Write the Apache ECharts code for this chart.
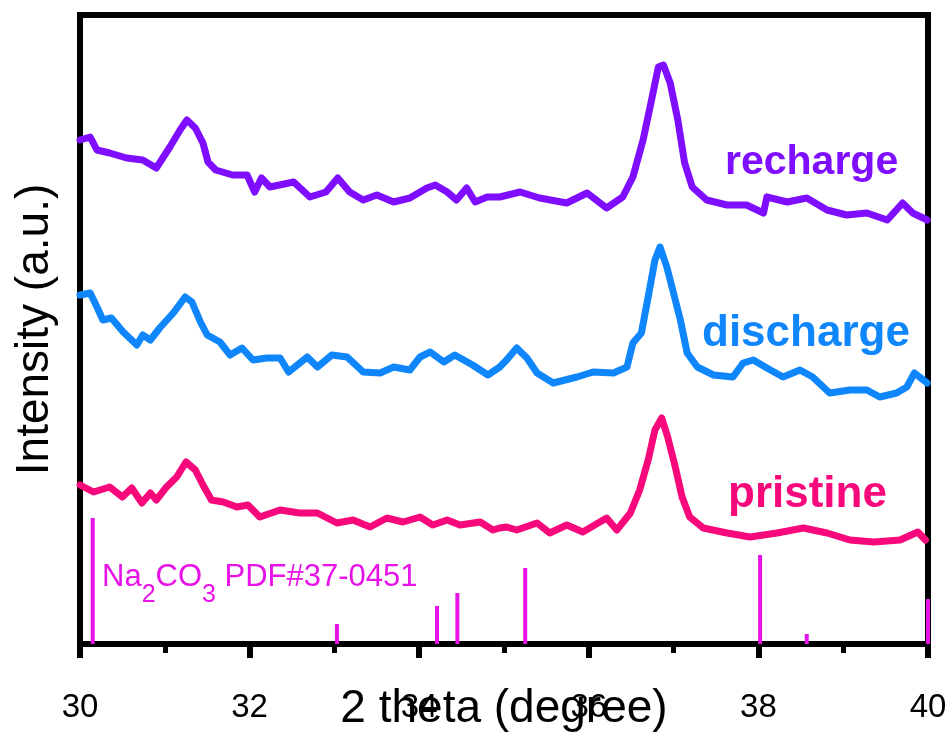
<!DOCTYPE html>
<html>
<head>
<meta charset="utf-8">
<script src="https://cdn.jsdelivr.net/npm/echarts@6/dist/echarts.min.js"></script>
<style>
  html, body { margin: 0; padding: 0; background: #fff; }
  #chart { width: 952px; height: 740px; }
</style>
</head>
<body>
<div id="chart"></div>
<script>
// 2-theta (degree), intensity (a.u., offset-stacked as in the figure)
var rechargeData = [
  [30,504],[30.12,507],[30.2,494],[30.35,491],[30.55,486],[30.74,484],[30.9,476],[31.06,497],
  [31.18,514],[31.26,524],[31.36,516],[31.45,501],[31.51,482],[31.6,474],[31.8,469],[31.97,469],
  [32.06,452],[32.14,466],[32.24,457],[32.52,462],[32.71,447],[32.9,452],[33.04,466],[33.18,452],
  [33.34,444],[33.5,449],[33.7,442],[33.89,446],[34.09,456],[34.19,459],[34.33,452],[34.44,444],
  [34.56,456],[34.66,442],[34.8,447],[34.95,447],[35.19,452],[35.42,446],[35.74,441],[35.98,451],
  [36.21,436],[36.4,447],[36.52,467],[36.64,504],[36.74,544],[36.82,577],[36.88,579],[36.96,561],
  [37.05,524],[37.13,481],[37.22,457],[37.39,444],[37.63,439],[37.86,439],[38.06,431],[38.1,447],
  [38.34,442],[38.57,446],[38.81,434],[39.04,429],[39.28,431],[39.52,424],[39.7,441],[39.82,431],
  [39.99,424]
];
var dischargeData = [
  [30,349],[30.12,351],[30.2,337],[30.27,324],[30.37,326],[30.51,312],[30.67,299],[30.74,309],
  [30.83,304],[30.94,316],[31.1,331],[31.24,347],[31.32,342],[31.42,322],[31.5,309],[31.65,302],
  [31.77,289],[31.91,296],[32.04,284],[32.2,286],[32.36,286],[32.46,272],[32.68,287],[32.8,277],
  [32.97,289],[33.15,287],[33.34,272],[33.54,271],[33.7,277],[33.89,274],[34.01,287],[34.13,292],
  [34.29,282],[34.42,289],[34.63,279],[34.81,269],[34.95,277],[35.03,284],[35.15,296],[35.27,286],
  [35.39,271],[35.58,261],[35.86,267],[36.05,272],[36.29,271],[36.45,277],[36.52,301],[36.62,311],
  [36.7,347],[36.78,384],[36.84,397],[36.92,377],[36.99,354],[37.08,324],[37.16,291],[37.28,277],
  [37.47,269],[37.7,267],[37.82,281],[37.94,284],[38.1,276],[38.29,267],[38.49,274],[38.64,267],
  [38.84,251],[39.08,254],[39.28,254],[39.43,247],[39.63,251],[39.75,257],[39.84,271],[39.99,261]
];
var pristineData = [
  [30,159],[30.16,152],[30.35,157],[30.5,147],[30.61,156],[30.73,141],[30.83,151],[30.9,144],
  [31.02,157],[31.14,167],[31.25,182],[31.36,174],[31.45,159],[31.55,144],[31.69,142],[31.85,137],
  [31.98,139],[32.12,127],[32.36,134],[32.59,131],[32.8,131],[33.03,121],[33.22,124],[33.42,117],
  [33.62,126],[33.81,122],[34.01,127],[34.16,119],[34.33,124],[34.48,119],[34.72,122],[34.87,114],
  [34.95,116],[35.03,117],[35.15,114],[35.39,121],[35.54,111],[35.74,119],[35.93,112],[36.21,126],
  [36.33,114],[36.49,131],[36.6,154],[36.7,184],[36.78,214],[36.86,226],[36.93,207],[37.02,177],
  [37.1,147],[37.19,127],[37.35,116],[37.63,111],[37.9,107],[38.22,111],[38.53,116],[38.81,111],
  [39.08,104],[39.36,102],[39.67,104],[39.88,112],[39.97,104]
];
// Na2CO3 PDF#37-0451 reference lines
var refPositions = [30.15, 33.03, 34.21, 34.45, 35.25, 38.02, 38.57, 40.0];
var refHeights   = [126, 20, 38, 51, 76, 89, 10, 45];
var xTicks = [30, 32, 34, 36, 38, 40];

var refData = refPositions.map(function (p, i) { return [p, refHeights[i]]; });

var chart = echarts.init(document.getElementById('chart'), null, { renderer: 'canvas' });
var font = "'Liberation Sans', Arial, sans-serif";
var cPurple = '#7f0dff', cBlue = '#0f86fb', cPink = '#f7097c', cMag = '#e812e8';

chart.setOption({
  animation: false,
  backgroundColor: '#fff',
  grid: { left: 80, right: 24, top: 15, bottom: 96, containLabel: false, outerBoundsMode: 'none',
          show: true, borderColor: '#000', borderWidth: 6, backgroundColor: 'transparent' },
  xAxis: {
    type: 'value', min: xTicks[0], max: xTicks[xTicks.length - 1], interval: 2,
    axisLine: { show: true, lineStyle: { color: '#000', width: 6 } },
    axisTick: { show: true, inside: false, length: 14, lineStyle: { color: '#000', width: 6 } },
    minorTick: { show: true, splitNumber: 2, length: 9, lineStyle: { color: '#000', width: 5 } },
    axisLabel: { fontSize: 33, fontFamily: font, color: '#000', margin: 47 },
    splitLine: { show: false }, minorSplitLine: { show: false }
  },
  yAxis: {
    type: 'value', min: 0, max: 629,
    name: 'Intensity (a.u.)', nameLocation: 'middle', nameGap: 22, nameRotate: 90, nameMoveOverlap: false,
    nameTextStyle: { fontSize: 46, fontFamily: font, color: '#000' },
    axisLine: { show: false }, axisTick: { show: false }, axisLabel: { show: false },
    splitLine: { show: false }
  },
  series: [
    { name: 'Na2CO3', type: 'bar', data: refData, barWidth: 4, itemStyle: { color: cMag }, z: 1 },
    { name: 'pristine', type: 'line', data: pristineData, showSymbol: false, lineStyle: { color: cPink, width: 7, join: 'round', cap: 'round' }, z: 3 },
    { name: 'discharge', type: 'line', data: dischargeData, showSymbol: false, lineStyle: { color: cBlue, width: 7, join: 'round', cap: 'round' }, z: 3 },
    { name: 'recharge', type: 'line', data: rechargeData, showSymbol: false, lineStyle: { color: cPurple, width: 7, join: 'round', cap: 'round' }, z: 3 }
  ],
  graphic: [
    { type: 'text', x: 504, y: 709, style: { text: '2 theta (degree)', fontSize: 46, fontFamily: font, fill: '#000', align: 'center', verticalAlign: 'middle' } },
    { type: 'text', left: 725, top: 142, style: { text: 'recharge', fontSize: 41, fontWeight: 'bold', fontFamily: font, fill: cPurple } },
    { type: 'text', left: 702, top: 312, style: { text: 'discharge', fontSize: 44, fontWeight: 'bold', fontFamily: font, fill: cBlue } },
    { type: 'text', left: 728, top: 473, style: { text: 'pristine', fontSize: 44, fontWeight: 'bold', fontFamily: font, fill: cPink } },
    { type: 'text', left: 102, top: 562, style: {
        text: '{n|Na}{s|2}{n|CO}{s|3}{n| PDF#37-0451}',
        fill: cMag,
        rich: {
          n: { fontSize: 31, fontFamily: font, fill: cMag, color: cMag },
          s: { fontSize: 25, fontFamily: font, fill: cMag, color: cMag, padding: [36, 0, 0, 0] }
        }
      } }
  ]
});
</script>
</body>
</html>
